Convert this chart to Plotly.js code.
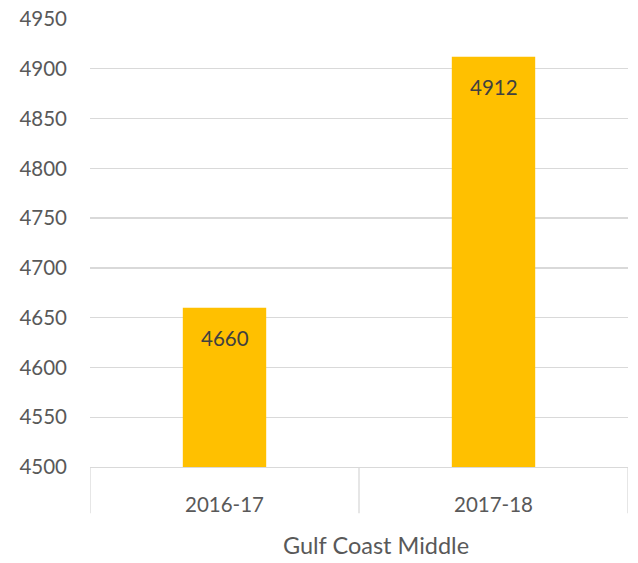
<!DOCTYPE html>
<html><head><meta charset="utf-8">
<script src="https://cdn.plot.ly/plotly-3.0.1.min.js"></script>
<style>html,body{margin:0;padding:0;background:#fff;}#chart{width:638px;height:563px;}</style>
</head><body><div id="chart"></div>
<script>
var categories = ["2016-17", "2017-18"];
var values = [4660, 4912];
var yTicks = [4500, 4550, 4600, 4650, 4700, 4750, 4800, 4850, 4900, 4950];
var xAxisTitle = "Gulf Coast Middle";

var font = "Lato, 'Open Sans', sans-serif";
var trace = {
  type: "bar", x: categories, y: values, marker: {color: "#FFC000"},
  width: 0.31, hoverinfo: "none"
};
var annotations = categories.map(function(c, i){
  return {x: c, y: values[i], xref: "x", yref: "y", text: String(values[i]),
    showarrow: false, yanchor: "top", yshift: -16,
    font: {family: font, size: 20.5, color: "#404040"}};
});
annotations.push({x: 0.532, y: -0.175, xref: "paper", yref: "paper", text: xAxisTitle,
  showarrow: false, xanchor: "center", yanchor: "middle",
  font: {family: font, size: 23.5, color: "#595959"}});
var shapes = [-0.5, 0.5, 1.5].map(function(b){
  return {type: "line", xref: "x", yref: "paper", x0: b, x1: b, y0: 0, y1: -0.103,
    line: {color: "#d9d9d9", width: 1.3}};
});
var layout = {
  width: 638, height: 563,
  margin: {l: 90, r: 10, t: 19, b: 96},
  paper_bgcolor: "#fff", plot_bgcolor: "#fff",
  showlegend: false,
  font: {family: font, color: "#595959", size: 20.5},
  xaxis: {type: "category", range: [-0.5, 1.5], showgrid: false, zeroline: false,
    showline: true, linecolor: "#d9d9d9", linewidth: 1.3, ticks: "",
    ticklabelstandoff: 19, tickfont: {size: 20.5, color: "#595959"}},
  yaxis: {range: [4500, 4950], tickvals: yTicks, showgrid: true, gridcolor: "#d9d9d9",
    gridwidth: 1.3, zeroline: false, showline: false, ticks: "",
    ticklabelstandoff: 22, tickfont: {size: 20.5, color: "#595959"}},
  annotations: annotations, shapes: shapes
};
Plotly.newPlot("chart", [trace], layout, {displayModeBar: false, staticPlot: true});
</script></body></html>
